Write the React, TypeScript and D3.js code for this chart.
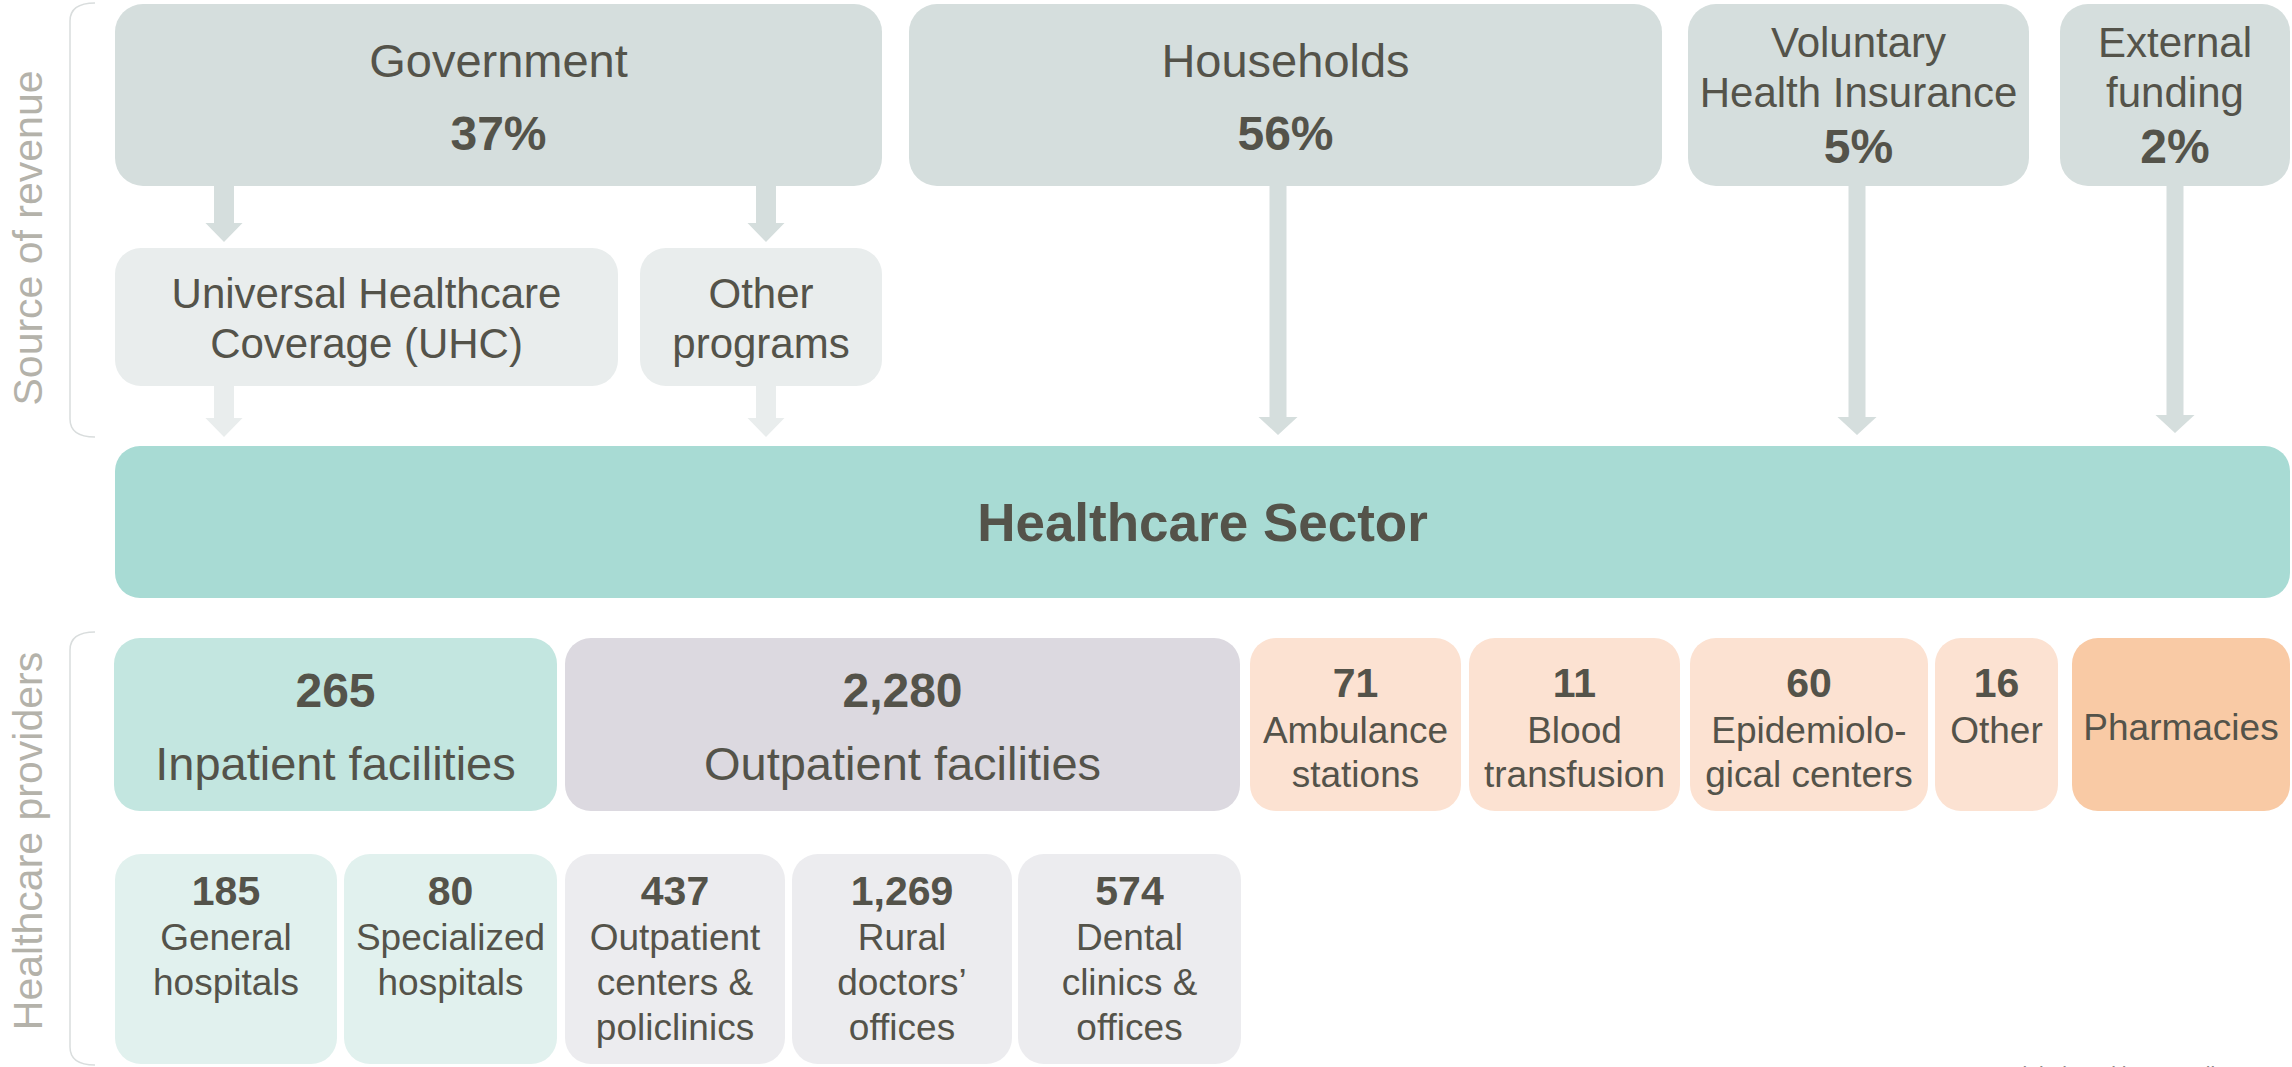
import * as d3 from "d3";
import React from "react";

// sources of revenue and their share of health spending
const sources = ["Government", "Households", "Voluntary Health Insurance", "External funding"];
const sourceLines = [["Government"], ["Households"], ["Voluntary", "Health Insurance"], ["External", "funding"]];
const sourceShares = [37, 56, 5, 2];

// government programs
const programs = [["Universal Healthcare", "Coverage (UHC)"], ["Other", "programs"]];

// provider types and number of facilities
const providerLines = [
  ["Inpatient facilities"],
  ["Outpatient facilities"],
  ["Ambulance", "stations"],
  ["Blood", "transfusion"],
  ["Epidemiolo-", "gical centers"],
  ["Other"],
  ["Pharmacies"],
];
const providerCounts = [265, 2280, 71, 11, 60, 16, null];

// breakdown of inpatient / outpatient facilities
const subLines = [
  ["General", "hospitals"],
  ["Specialized", "hospitals"],
  ["Outpatient", "centers &", "policlinics"],
  ["Rural", "doctors’", "offices"],
  ["Dental", "clinics &", "offices"],
];
const subCounts = [185, 80, 437, 1269, 574];

// layout (pixel edges of each box)
const sourceX = [[115, 882], [909, 1662], [1688, 2029], [2060, 2290]];
const programX = [[115, 618], [640, 882]];
const providerX = [[114, 557], [565, 1240], [1250, 1461], [1469, 1680], [1690, 1928], [1935, 2058], [2072, 2290]];
const subX = [[115, 337], [344, 557], [565, 785], [792, 1012], [1018, 1241]];

const providerFill = ["#c3e6e0", "#dcd9e0", "#fce2d2", "#fce2d2", "#fce2d2", "#fce2d2", "#f9caa5"];
const subFill = ["#e1f1ee", "#e1f1ee", "#ececef", "#ececef", "#ececef"];

const INK = "#54534a";
const FONT = "'Liberation Sans', Arial, Helvetica, sans-serif";
const fmt = d3.format(",");

// vertical scale: row name -> [top, bottom]
const rows = {
  source: [4, 186],
  program: [248, 386],
  sector: [446, 598],
  provider: [638, 811],
  sub: [854, 1064],
};

function arrowPath(cx: number, y0: number, y1: number, shaft: number, head: number, headLen: number) {
  const p = d3.path();
  p.moveTo(cx - shaft / 2, y0);
  p.lineTo(cx + shaft / 2, y0);
  p.lineTo(cx + shaft / 2, y1 - headLen);
  p.lineTo(cx + head / 2, y1 - headLen);
  p.lineTo(cx, y1);
  p.lineTo(cx - head / 2, y1 - headLen);
  p.lineTo(cx - shaft / 2, y1 - headLen);
  p.closePath();
  return p.toString();
}

function bracketPath(x: number, y0: number, y1: number) {
  const p = d3.path();
  p.moveTo(x + 25, y0);
  p.quadraticCurveTo(x, y0, x, y0 + 18);
  p.lineTo(x, y1 - 18);
  p.quadraticCurveTo(x, y1, x + 25, y1);
  return p.toString();
}

const mid = (e: number[]) => (e[0] + e[1]) / 2;

export default function App() {
  const [sTop, sBot] = rows.source;
  const [pTop, pBot] = rows.program;
  const [hTop, hBot] = rows.sector;

  return (
    <svg
      width={2292}
      height={1067}
      style={{ position: "absolute", left: 0, top: 0, background: "#fff" }}
      fontFamily={FONT}
    >
      {/* side brackets and labels */}
      <path d={bracketPath(70, 3, 437)} fill="none" stroke="#d9dddd" strokeWidth={1.5} />
      <path d={bracketPath(70, 632, 1065)} fill="none" stroke="#d9dddd" strokeWidth={1.5} />
      <text transform="translate(42,238) rotate(-90)" textAnchor="middle" fontSize={41} fill="#b4b2aa">
        Source of revenue
      </text>
      <text transform="translate(42,841) rotate(-90)" textAnchor="middle" fontSize={41} fill="#b4b2aa">
        Healthcare providers
      </text>

      {/* arrows */}
      {[programX[0], programX[1]].map((e, i) => {
        const cx = i === 0 ? 224 : 766;
        return (
          <g key={"ga" + i}>
            <path d={arrowPath(cx, sBot, pTop - 6, 20, 37, 19)} fill="#d5dedd" />
            <path d={arrowPath(cx, pBot, hTop - 9, 20, 37, 19)} fill="#e9eded" />
          </g>
        );
      })}
      {[1278, 1857, 2175].map((cx, i) => (
        <path key={"sa" + i} d={arrowPath(cx, sBot, hTop - 11 + (i === 2 ? -2 : 0), 17, 39, 18)} fill="#d5dedd" />
      ))}

      {/* sources */}
      {sources.map((s, i) => {
        const e = sourceX[i];
        const big = sourceLines[i].length === 1;
        return (
          <g key={s}>
            <rect x={e[0]} y={sTop} width={e[1] - e[0]} height={sBot - sTop} rx={28} fill="#d5dedd" />
            <text textAnchor="middle" fill={INK}>
              {sourceLines[i].map((l, j) => (
                <tspan key={j} x={mid(e)} y={big ? 77 : 57 + j * 50} fontSize={big ? 47 : 42}>
                  {l}
                </tspan>
              ))}
              <tspan x={mid(e)} y={big ? 150 : 163} fontSize={48} fontWeight="bold">
                {sourceShares[i]}%
              </tspan>
            </text>
          </g>
        );
      })}

      {/* programs */}
      {programs.map((lines, i) => {
        const e = programX[i];
        return (
          <g key={i}>
            <rect x={e[0]} y={pTop} width={e[1] - e[0]} height={pBot - pTop} rx={26} fill="#e9eded" />
            <text textAnchor="middle" fill={INK} fontSize={42}>
              {lines.map((l, j) => (
                <tspan key={j} x={mid(e)} y={308 + j * 50}>
                  {l}
                </tspan>
              ))}
            </text>
          </g>
        );
      })}

      {/* healthcare sector */}
      <rect x={115} y={hTop} width={2290 - 115} height={hBot - hTop} rx={25} fill="#a8dbd4" />
      <text x={mid([115, 2290])} y={541} textAnchor="middle" fontSize={53} fontWeight="bold" fill={INK}>
        Healthcare Sector
      </text>

      {/* providers */}
      {providerLines.map((lines, i) => {
        const e = providerX[i];
        const [t, b] = rows.provider;
        const n = providerCounts[i];
        const wide = i < 2;
        return (
          <g key={"p" + i}>
            <rect x={e[0]} y={t} width={e[1] - e[0]} height={b - t} rx={26} fill={providerFill[i]} />
            <text textAnchor="middle" fill={INK}>
              {n != null && (
                <tspan x={mid(e)} y={wide ? 707 : 697} fontSize={wide ? 48 : 41} fontWeight="bold">
                  {fmt(n)}
                </tspan>
              )}
              {lines.map((l, j) => (
                <tspan key={j} x={mid(e)} y={wide ? 780 : n == null ? 740 : 743 + j * 44} fontSize={wide ? 47 : 37}>
                  {l}
                </tspan>
              ))}
            </text>
          </g>
        );
      })}

      {/* sub-types */}
      {subLines.map((lines, i) => {
        const e = subX[i];
        const [t, b] = rows.sub;
        return (
          <g key={"s" + i}>
            <rect x={e[0]} y={t} width={e[1] - e[0]} height={b - t} rx={26} fill={subFill[i]} />
            <text textAnchor="middle" fill={INK}>
              <tspan x={mid(e)} y={905} fontSize={41} fontWeight="bold">
                {fmt(subCounts[i])}
              </tspan>
              {lines.map((l, j) => (
                <tspan key={j} x={mid(e)} y={950 + j * 45} fontSize={37}>
                  {l}
                </tspan>
              ))}
            </text>
          </g>
        );
      })}

      {/* source note, clipped at the bottom edge */}
      <text x={1746} y={1081} fontSize={21} fill="#8a8a86">
        Source: MOH, 2019; WHO; Global Health Expenditure Database
      </text>
    </svg>
  );
}
